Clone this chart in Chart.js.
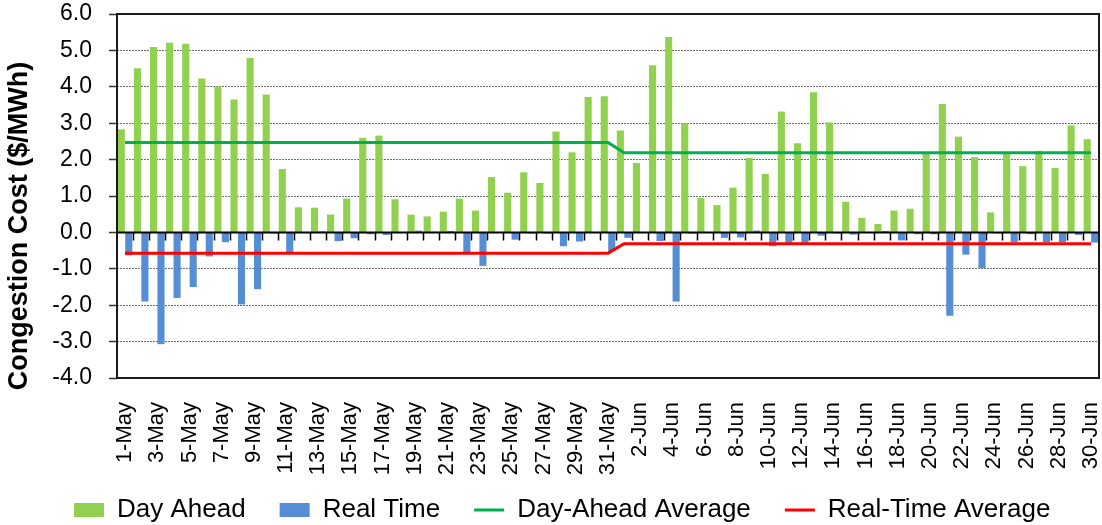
<!DOCTYPE html>
<html>
<head>
<meta charset="utf-8">
<script src="https://cdn.jsdelivr.net/npm/chart.js@4/dist/chart.umd.min.js"></script>
<style>
html, body { margin: 0; padding: 0; background: #ffffff; }
#wrap { width: 1102px; height: 525px; }
</style>
</head>
<body>
<div id="wrap"><canvas id="c" width="1102" height="525"></canvas></div>
<script>
const categories = [
  '1-May','2-May','3-May','4-May','5-May','6-May','7-May','8-May','9-May','10-May',
  '11-May','12-May','13-May','14-May','15-May','16-May','17-May','18-May','19-May','20-May',
  '21-May','22-May','23-May','24-May','25-May','26-May','27-May','28-May','29-May','30-May','31-May',
  '1-Jun','2-Jun','3-Jun','4-Jun','5-Jun','6-Jun','7-Jun','8-Jun','9-Jun','10-Jun',
  '11-Jun','12-Jun','13-Jun','14-Jun','15-Jun','16-Jun','17-Jun','18-Jun','19-Jun','20-Jun',
  '21-Jun','22-Jun','23-Jun','24-Jun','25-Jun','26-Jun','27-Jun','28-Jun','29-Jun','30-Jun'
];

const dayAhead = [
  2.83, 4.51, 5.09, 5.21, 5.18, 4.23, 4.01, 3.65, 4.79, 3.79,
  1.74, 0.69, 0.68, 0.49, 0.93, 2.60, 2.66, 0.91, 0.49, 0.44,
  0.57, 0.93, 0.60, 1.52, 1.09, 1.65, 1.36, 2.77, 2.20, 3.72, 3.74,
  2.80, 1.91, 4.59, 5.37, 2.99, 0.95, 0.75, 1.23, 2.05, 1.61,
  3.32, 2.45, 3.85, 3.02, 0.84, 0.40, 0.23, 0.60, 0.65, 2.17,
  3.53, 2.63, 2.07, 0.55, 2.17, 1.82, 2.24, 1.77, 2.94, 2.56
];

const realTime = [
  -0.63, -1.90, -3.07, -1.80, -1.50, -0.66, -0.27, -1.98, -1.56, -0.03,
  -0.54, -0.02, 0.03, -0.24, -0.16, -0.05, -0.07, 0.00, 0.05, 0.02,
  0.04, -0.55, -0.92, 0.00, -0.20, -0.03, -0.03, -0.38, -0.25, -0.01, -0.51,
  -0.15, 0.00, -0.24, -1.90, -0.03, 0.00, -0.15, -0.14, 0.05, -0.38,
  -0.29, -0.29, -0.09, -0.03, -0.06, 0.00, 0.04, -0.22, -0.05, -0.05,
  -2.29, -0.61, -0.98, -0.03, -0.27, -0.05, -0.27, -0.27, -0.07, -0.28
];

const dayAheadAvg = [
  2.47, 2.47, 2.47, 2.47, 2.47, 2.47, 2.47, 2.47, 2.47, 2.47,
  2.47, 2.47, 2.47, 2.47, 2.47, 2.47, 2.47, 2.47, 2.47, 2.47,
  2.47, 2.47, 2.47, 2.47, 2.47, 2.47, 2.47, 2.47, 2.47, 2.47, 2.47,
  2.19, 2.19, 2.19, 2.19, 2.19, 2.19, 2.19, 2.19, 2.19, 2.19,
  2.19, 2.19, 2.19, 2.19, 2.19, 2.19, 2.19, 2.19, 2.19, 2.19,
  2.19, 2.19, 2.19, 2.19, 2.19, 2.19, 2.19, 2.19, 2.19, 2.19
];

const realTimeAvg = [
  -0.57, -0.57, -0.57, -0.57, -0.57, -0.57, -0.57, -0.57, -0.57, -0.57,
  -0.57, -0.57, -0.57, -0.57, -0.57, -0.57, -0.57, -0.57, -0.57, -0.57,
  -0.57, -0.57, -0.57, -0.57, -0.57, -0.57, -0.57, -0.57, -0.57, -0.57, -0.57,
  -0.31, -0.31, -0.31, -0.31, -0.31, -0.31, -0.31, -0.31, -0.31, -0.31,
  -0.31, -0.31, -0.31, -0.31, -0.31, -0.31, -0.31, -0.31, -0.31, -0.31,
  -0.31, -0.31, -0.31, -0.31, -0.31, -0.31, -0.31, -0.31, -0.31, -0.31
];

const seriesNames = ['Day Ahead', 'Real Time', 'Day-Ahead Average', 'Real-Time Average'];
const yAxisTitle = 'Congestion Cost ($/MWh)';
const yMin = -4, yMax = 6, yStep = 1;

const FONT = "'Liberation Sans', Arial, sans-serif";
const CANVAS_H = 525;
const PLOT_BOTTOM = 378;
const PLOT_LEFT = 117;
const LEGEND_START_X = 74;
const LEGEND_CENTER_Y = 510;
const TITLE_SHIFT = 30;

const framePlugin = {
  id: 'framePlugin',
  afterLayout(chart) {
    // let the rotated category labels use the space down to the legend
    const x = chart.scales.x;
    x.bottom = CANVAS_H - 30;
    x.height = x.bottom - x.top;
  },
  beforeDraw(chart) {
    // centre the y-axis title a little lower (only while the axes are drawn)
    const y = chart.scales.y;
    y.top += TITLE_SHIFT;
    y.bottom += TITLE_SHIFT;
    const lg = chart.legend;
    if (!lg || !lg.legendHitBoxes || !lg.legendHitBoxes.length) return;
    const hb0 = lg.legendHitBoxes[0];
    const dx = LEGEND_START_X - hb0.left;
    const dy = LEGEND_CENTER_Y - (hb0.top + hb0.height / 2);
    if (Math.abs(dx) < 0.01 && Math.abs(dy) < 0.01) return;
    lg.left += dx; lg.right += dx; lg.top += dy; lg.bottom += dy;
    lg.legendHitBoxes.forEach(h => { h.left += dx; h.top += dy; });
  },
  beforeDatasetsDraw(chart) {
    const y = chart.scales.y;
    y.top -= TITLE_SHIFT;
    y.bottom -= TITLE_SHIFT;
  },
  afterDatasetsDraw(chart) {
    const { ctx, chartArea: a, scales: { x, y } } = chart;
    const y0 = y.getPixelForValue(0);
    ctx.save();
    ctx.strokeStyle = '#000000';
    ctx.lineWidth = 2;
    ctx.beginPath();
    ctx.moveTo(a.left, y0);
    ctx.lineTo(a.right, y0);
    ctx.stroke();
    ctx.lineWidth = 1.5;
    ctx.beginPath();
    for (let i = 1; i < categories.length; i++) {
      const xb = Math.round((x.getPixelForValue(i - 1) + x.getPixelForValue(i)) / 2) + 0.5;
      ctx.moveTo(xb, y0);
      ctx.lineTo(xb, y0 + 8);
    }
    ctx.stroke();
    ctx.restore();
  },
  afterDraw(chart) {
    const { ctx, chartArea: a } = chart;
    ctx.save();
    ctx.strokeStyle = '#1a1a1a';
    ctx.lineWidth = 2;
    ctx.strokeRect(a.left, a.top, a.right - a.left, a.bottom - a.top);
    ctx.restore();
  }
};

new Chart(document.getElementById('c'), {
  type: 'bar',
  data: {
    labels: categories,
    datasets: [
      { type: 'bar', label: seriesNames[0], data: dayAhead, backgroundColor: '#92D050', order: 1,
        categoryPercentage: 0.93, barPercentage: 0.95 },
      { type: 'bar', label: seriesNames[1], data: realTime, backgroundColor: '#558ED5', order: 1,
        categoryPercentage: 0.93, barPercentage: 0.95 },
      { type: 'line', label: seriesNames[2], data: dayAheadAvg, borderColor: '#00B050', backgroundColor: '#00B050',
        borderWidth: 3, pointRadius: 0, tension: 0, fill: false, order: 0 },
      { type: 'line', label: seriesNames[3], data: realTimeAvg, borderColor: '#FF0000', backgroundColor: '#FF0000',
        borderWidth: 3, pointRadius: 0, tension: 0, fill: false, order: 0 }
    ]
  },
  options: {
    responsive: false,
    animation: false,
    devicePixelRatio: 1,
    layout: { padding: { top: 14, right: 3, left: 0, bottom: 0 } },
    plugins: {
      tooltip: { enabled: false },
      legend: {
        position: 'bottom',
        labels: {
          font: { family: FONT, size: 26 },
          color: '#000000',
          usePointStyle: true,
          pointStyleWidth: 30,
          boxHeight: 14,
          padding: 34,
          sort: (a, b) => a.datasetIndex - b.datasetIndex,
          generateLabels(chart) {
            const items = Chart.defaults.plugins.legend.labels.generateLabels(chart);
            items.forEach(it => {
              const ds = chart.data.datasets[it.datasetIndex];
              if (ds.type === 'line') {
                it.pointStyle = 'line';
                it.strokeStyle = ds.borderColor;
                it.lineWidth = 3;
              } else {
                it.pointStyle = 'rect';
                it.fillStyle = ds.backgroundColor;
                it.lineWidth = 0;
              }
            });
            return items;
          }
        }
      }
    },
    scales: {
      x: {
        offset: true,
        grid: { display: false },
        border: { display: false },
        ticks: {
          autoSkip: false,
          minRotation: 90,
          maxRotation: 90,
          padding: 16,
          color: '#000000',
          font: { family: FONT, size: 22 },
          callback: (v, i) => (i % 2 === 0 ? categories[i] : '')
        },
        afterFit(scale) {
          scale.paddingLeft = 0;
          scale.paddingRight = 0;
          const lh = scale.chart.legend ? scale.chart.legend.height : 0;
          scale.height = CANVAS_H - PLOT_BOTTOM - lh;
        }
      },
      y: {
        min: yMin,
        max: yMax,
        grid: {
          color: '#6e6e6e',
          lineWidth: 1,
          drawTicks: true,
          tickLength: 8,
          tickColor: '#333333',
          tickWidth: 1.5
        },
        border: { display: false, dash: [2, 1] },
        ticks: {
          stepSize: yStep,
          padding: 17,
          color: '#000000',
          font: { family: FONT, size: 23 },
          callback: v => Number(v).toFixed(1)
        },
        title: {
          display: true,
          text: yAxisTitle,
          color: '#000000',
          font: { family: FONT, size: 27, weight: 'bold' },
          padding: { top: 3, bottom: 0 }
        },
        afterFit(scale) {
          scale.width = PLOT_LEFT;
          scale.paddingTop = 0;
          scale.paddingBottom = 0;
        }
      }
    }
  },
  plugins: [framePlugin]
});
</script>
</body>
</html>
